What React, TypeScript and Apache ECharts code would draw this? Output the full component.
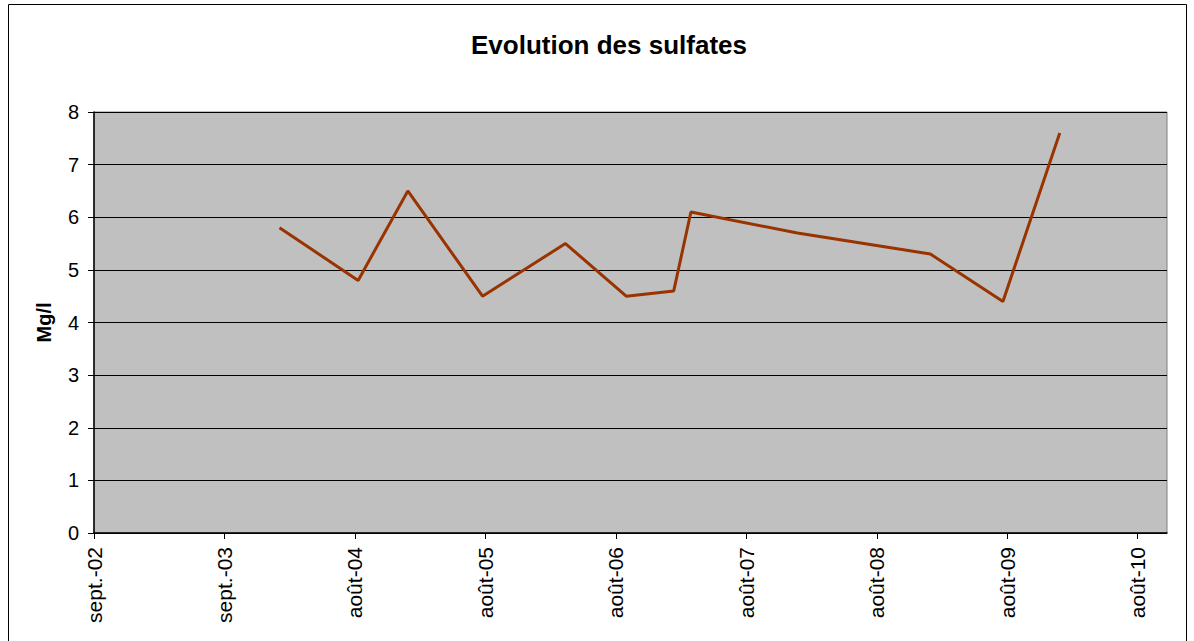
import React, { useEffect, useRef } from "react";
import * as echarts from "echarts";

const sampleDates = [
  "2004-02-02", "2004-09-09", "2005-01-26", "2005-08-23", "2006-04-12", "2006-09-29",
  "2007-02-09", "2007-03-29", "2008-01-21", "2009-01-27", "2009-08-18", "2010-01-24",
];
const sulfates = [5.8, 4.8, 6.5, 4.5, 5.5, 4.5, 4.6, 6.1, 5.7, 5.3, 4.4, 7.6];

const tickDates = [
  "2002-09-01", "2003-09-01", "2004-08-31", "2005-08-31", "2006-08-31",
  "2007-08-31", "2008-08-30", "2009-08-30", "2010-08-30",
];
const tickLabels = [
  "sept.-02", "sept.-03", "août-04", "août-05", "août-06",
  "août-07", "août-08", "août-09", "août-10",
];
const axisMinDate = "2002-09-01";
const axisMaxDate = "2010-11-20";

const yTicks = [0, 1, 2, 3, 4, 5, 6, 7, 8];

const ts = (d: string) => Date.parse(d + "T00:00:00Z");

export default function App() {
  const ref = useRef<HTMLDivElement>(null);
  useEffect(() => {
    if (!ref.current) return;
    const chart = echarts.init(ref.current, null, { renderer: "svg" });
    const tickVals = tickDates.map(ts);
    const font = "'Liberation Sans', Arial, sans-serif";
    chart.setOption({
      animation: false,
      backgroundColor: "#ffffff",
      textStyle: { fontFamily: font },
      title: {
        text: "Evolution des sulfates",
        left: 604,
        textAlign: "center",
        top: 27,
        textStyle: { fontSize: 26, fontWeight: "bold", color: "#000", fontFamily: font },
      },
      graphic: [
        {
          type: "rect",
          shape: { x: 8.5, y: 4.5, width: 1178, height: 700 },
          style: { fill: "none", stroke: "#000", lineWidth: 1 },
          silent: true,
        },
      ],
      grid: {
        left: 94,
        right: 27,
        top: 112,
        bottom: 108,
        show: true,
        backgroundColor: "#C0C0C0",
        borderColor: "#808080",
        borderWidth: 1,
      },
      xAxis: {
        type: "value",
        min: ts(axisMinDate),
        max: ts(axisMaxDate),
        splitLine: { show: false },
        axisLine: { show: true, onZero: false, lineStyle: { color: "#000", width: 1.5 } },
        axisTick: { show: true, customValues: tickVals, length: 6, lineStyle: { color: "#000" } },
        axisLabel: {
          customValues: tickVals,
          rotate: 90,
          margin: 14,
          fontSize: 21,
          color: "#000",
          fontFamily: font,
          formatter: (v: number) => {
            const i = tickVals.indexOf(v);
            return i >= 0 ? tickLabels[i] : "";
          },
        },
      },
      yAxis: {
        type: "value",
        min: yTicks[0],
        max: yTicks[yTicks.length - 1],
        interval: 1,
        name: "Mg/l",
        nameLocation: "middle",
        nameRotate: 90,
        nameGap: 40,
        nameTextStyle: { fontSize: 20, fontWeight: "bold", color: "#000", fontFamily: font },
        axisLine: { show: true, lineStyle: { color: "#000", width: 1.5 } },
        axisTick: { show: true, length: 6, lineStyle: { color: "#000" } },
        axisLabel: { margin: 15, fontSize: 20, color: "#000", fontFamily: font },
        splitLine: { show: true, lineStyle: { color: "#000", width: 1 } },
      },
      series: [
        {
          type: "line",
          data: sampleDates.map((d, i) => [ts(d), sulfates[i]]),
          showSymbol: false,
          symbol: "none",
          lineStyle: { color: "#993300", width: 3 },
          itemStyle: { color: "#993300" },
        },
      ],
    });
    return () => chart.dispose();
  }, []);
  return (
    <div
      ref={ref}
      style={{ position: "absolute", left: 0, top: 0, width: 1194, height: 641 }}
    />
  );
}
